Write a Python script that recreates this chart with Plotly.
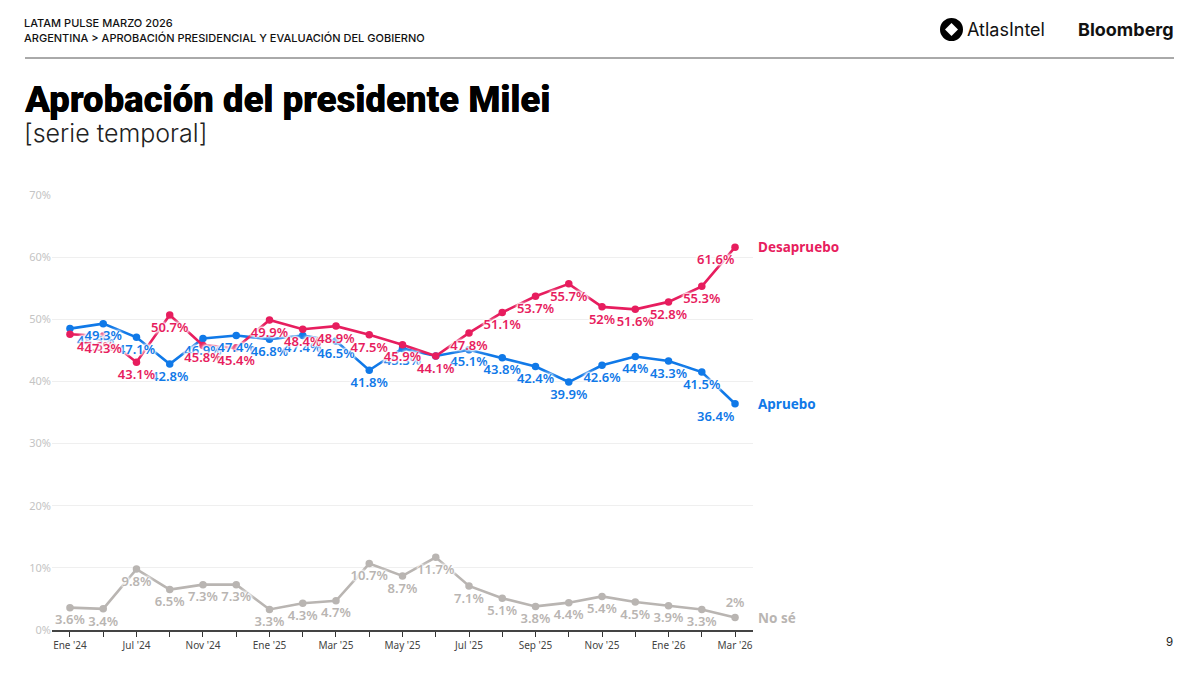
import plotly.graph_objects as go

tick_labels = ["Ene '24", "", "Jul '24", "", "Nov '24", "", "Ene '25", "", "Mar '25", "", "May '25", "",
               "Jul '25", "", "Sep '25", "", "Nov '25", "", "Ene '26", "", "Mar '26"]
aprueba = [48.5, 49.3, 47.1, 42.8, 46.9, 47.4, 46.8, 47.4, 46.5, 41.8, 45.3, 44.1, 45.1, 43.8, 42.4, 39.9, 42.6, 44, 43.3, 41.5, 36.4]
desaprueba = [47.6, 47.3, 43.1, 50.7, 45.8, 45.4, 49.9, 48.4, 48.9, 47.5, 45.9, 44.1, 47.8, 51.1, 53.7, 55.7, 52, 51.6, 52.8, 55.3, 61.6]
no_se = [3.6, 3.4, 9.8, 6.5, 7.3, 7.3, 3.3, 4.3, 4.7, 10.7, 8.7, 11.7, 7.1, 5.1, 3.8, 4.4, 5.4, 4.5, 3.9, 3.3, 2]
y_ticks = [0, 10, 20, 30, 40, 50, 60, 70]
x = list(range(len(tick_labels)))

BLUE, RED, GRAY = "#1079E8", "#E71D5E", "#B9B5B2"
LABEL_FONT = "Noto Sans"
HALO = "0 0 2px #fff, 0 0 2px #fff, 0 0 3px #fff, 0 0 3px #fff, 0 0 4px #fff, 0 0 4px #fff"

series = [("No sé", no_se, GRAY), ("Apruebo", aprueba, BLUE), ("Desapruebo", desaprueba, RED)]

fig = go.Figure()
for name, vals, col in series:
    fig.add_trace(go.Scatter(x=x, y=vals, mode="lines+markers", name=name,
                             line=dict(color=col, width=2.6),
                             marker=dict(color=col, size=7.5), showlegend=False))
for name, vals, col in series:
    pos = ["bottom center"] * len(vals)
    text = [f"{v:g}%" for v in vals]
    if name == "No sé":
        pos[-1] = "top center"
    else:
        pos[0] = "bottom right"
        text[-1] = ""
        fig.add_annotation(x=x[-1], y=vals[-1], text=f"{vals[-1]:g}%", showarrow=False, xanchor="right",
                           yanchor="top", xshift=1, yshift=-1,
                           font=dict(family=LABEL_FONT, size=13, color=col, weight=600, shadow=HALO))
    fig.add_trace(go.Scatter(x=x, y=vals, mode="markers+text", showlegend=False, cliponaxis=False,
                             hoverinfo="skip", marker=dict(size=9.5, opacity=0),
                             text=text, textposition=pos,
                             textfont=dict(family=LABEL_FONT, size=13, color=col, weight=600, shadow=HALO)))

for name, vals, col in series:
    fig.add_annotation(x=x[-1], y=vals[-1], text=f"<b>{name}</b>", showarrow=False, xanchor="left",
                       xshift=21, font=dict(family=LABEL_FONT, size=13.5, color=col))

def px_x(p): return (p - 52) / 701
def px_y(p): return (630 - p) / 435

def txt(px, py, s, size, color="#111", fam="Inter", anchor="left", weight=None, shadow=None):
    fig.add_annotation(xref="paper", yref="paper", x=px_x(px), y=px_y(py), text=s,
                       showarrow=False, xanchor=anchor, yanchor="middle", borderpad=0, borderwidth=0,
                       font=dict(family=fam, size=size, color=color, weight=weight, shadow=shadow))

txt(24, 23, "LATAM PULSE MARZO 2026", 11, weight=500)
txt(24, 38, "ARGENTINA &gt; APROBACIÓN PRESIDENCIAL Y EVALUACIÓN DEL GOBIERNO", 11, weight=500)
txt(24, 99, "Aprobación del presidente Milei", 36.6, color="#000", fam="Roboto", weight=900,
    shadow="0.25px 0 0 #000")
txt(24, 133, "[serie temporal]", 25, color="#222", weight=300)
txt(967, 30, "AtlasIntel", 18, color="#111", weight=400)
txt(1078, 30, "Bloomberg", 18, color="#111", weight=700)
txt(1173, 642, "9", 11.5, color="#222", anchor="right", weight=400)

fig.add_shape(type="line", xref="paper", yref="paper", x0=px_x(25), x1=px_x(1174), y0=px_y(58), y1=px_y(58),
              line=dict(color="#555", width=1))
fig.add_shape(type="circle", xref="paper", yref="paper", x0=px_x(940), x1=px_x(963), y0=px_y(41), y1=px_y(18),
              fillcolor="#000", line_width=0)
fig.add_shape(type="path", xref="paper", yref="paper",
              path=f"M {px_x(945)} {px_y(29.5)} L {px_x(951.5)} {px_y(23)} L {px_x(958)} {px_y(29.5)} L {px_x(951.5)} {px_y(36)} Z",
              fillcolor="#fff", line_width=0)

fig.update_layout(
    width=1200, height=675, autosize=False,
    margin=dict(l=52, r=447, t=195, b=45),
    paper_bgcolor="#fff", plot_bgcolor="#fff",
    showlegend=False,
    xaxis=dict(range=[-0.54, 20.54], tickmode="array", tickvals=x, ticktext=tick_labels,
               showgrid=False, zeroline=False, showline=True, linecolor="#444", linewidth=1.5,
               ticks="outside", ticklen=5, tickwidth=1, tickcolor="#333", tickangle=0,
               tickfont=dict(family="Noto Sans", size=10, color="#444")),
    yaxis=dict(range=[0, 70], tickmode="array", tickvals=y_ticks, ticktext=[f"{v}%" for v in y_ticks],
               gridcolor="#EFEFEF", gridwidth=1, zeroline=False, showline=False, ticks="",
               tickfont=dict(family="Noto Sans", size=11, color="#C4C4C4")),
)
fig.write_html("out.html", config={"displayModeBar": False},
               post_script="document.body.style.margin='0';")
